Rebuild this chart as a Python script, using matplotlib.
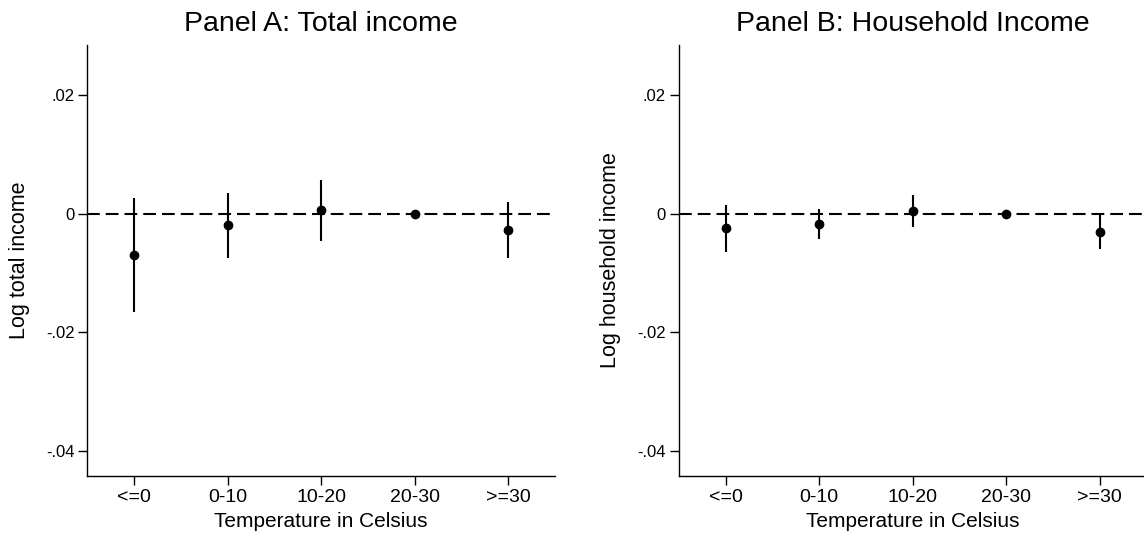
import numpy as np
import matplotlib
matplotlib.use("Agg")
import matplotlib.pyplot as plt


# CONFIG
SAVE_PATH = "out.png"

plt.rcParams["font.family"] = ["Liberation Sans", "DejaVu Sans"]
plt.rcParams["lines.scale_dashes"] = False

# DATA
categories = ["<=0", "0-10", "10-20", "20-30", ">=30"]

total_coef = [-0.0069, -0.0020, 0.0006, 0.0, -0.0028]
total_hi = [0.0027, 0.0035, 0.0057, 0.0, 0.0019]
total_lo = [-0.0165, -0.0074, -0.0046, 0.0, -0.0074]

hh_coef = [-0.0025, -0.0017, 0.0005, 0.0, -0.0031]
hh_hi = [0.0014, 0.0007, 0.0031, 0.0, -0.0003]
hh_lo = [-0.0064, -0.0042, -0.0023, 0.0, -0.0060]

ytick_values = [-0.04, -0.02, 0.0, 0.02]
ytick_labels = ["-.04", "-.02", "0", ".02"]


def plot_panel(ax, coef, lo, hi, title, ylabel):
    """
    Coefficient plot with confidence intervals for one outcome.
    """
    x = np.arange(1, len(categories) + 1)

    ax.axhline(0, color="black", linewidth=1.5, dashes=(9.2, 4.3), zorder=1)
    ax.vlines(x, lo, hi, color="black", linewidth=1.5, capstyle="butt", zorder=2)
    ax.plot(x, coef, "o", color="black", markersize=6, zorder=3)

    ax.set_xlim(0.5, 5.5)
    ax.set_ylim(-0.0442, 0.0284)

    ax.set_xticks(x)
    ax.set_xticklabels(categories)
    ax.set_yticks(ytick_values)
    ax.set_yticklabels(ytick_labels)

    ax.tick_params(axis="x", labelsize=14, length=6.5, width=1.0, pad=3)
    ax.tick_params(axis="y", labelsize=12, length=6.2, width=1.0, pad=3)

    for side in ["top", "right"]:
        ax.spines[side].set_visible(False)
    for side in ["left", "bottom"]:
        ax.spines[side].set_linewidth(1.0)

    ax.set_title(title, fontsize=20.5, pad=10)
    ax.set_xlabel("Temperature in Celsius", fontsize=15, labelpad=4)
    ax.set_ylabel(ylabel, fontsize=15.5, labelpad=11.5)


# MAIN
def main():
    fig = plt.figure(figsize=(11.44, 5.39), dpi=100)

    ax_a = fig.add_axes([0.0763, 0.1169, 0.4088, 0.7996])
    ax_b = fig.add_axes([0.5933, 0.1169, 0.4088, 0.7996])

    plot_panel(ax_a, total_coef, total_lo, total_hi,
               "Panel A: Total income", "Log total income")
    plot_panel(ax_b, hh_coef, hh_lo, hh_hi,
               "Panel B: Household Income", "Log household income")

    fig.savefig(SAVE_PATH, dpi=100)
    plt.close(fig)


# RUN
if __name__ == "__main__":
    main()
